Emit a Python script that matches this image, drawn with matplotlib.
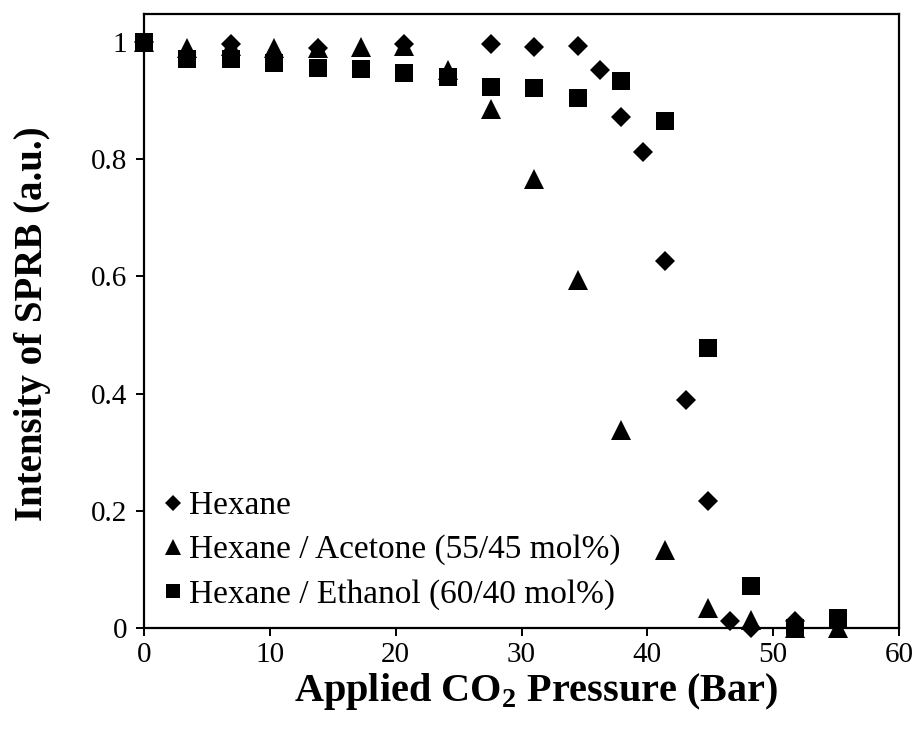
import matplotlib
matplotlib.use("Agg")
import matplotlib.pyplot as plt
from matplotlib.ticker import FuncFormatter

plt.rcParams["font.family"] = ["Liberation Serif", "DejaVu Serif"]
plt.rcParams["mathtext.fontset"] = "custom"
plt.rcParams["mathtext.rm"] = "Liberation Serif"
plt.rcParams["mathtext.bf"] = "Liberation Serif:bold"

# Applied CO2 pressure (bar) and normalised SPRB intensity
hexane_p = [0.0, 6.89, 13.79, 20.68, 27.58, 31.03, 34.47, 36.20, 37.92,
            39.64, 41.37, 43.09, 44.82, 46.54, 48.26, 51.71]
hexane_i = [1.000, 0.997, 0.990, 0.997, 0.997, 0.991, 0.993, 0.953, 0.873,
            0.812, 0.626, 0.389, 0.216, 0.012, 0.000, 0.012]

acetone_p = [0.0, 3.45, 6.89, 10.34, 13.79, 17.24, 20.68, 24.13, 27.58,
             31.03, 34.47, 37.92, 41.37, 44.82, 48.26, 51.71, 55.16]
acetone_i = [1.000, 0.990, 0.993, 0.990, 0.990, 0.992, 0.994, 0.953, 0.886,
             0.767, 0.594, 0.338, 0.133, 0.034, 0.014, 0.000, 0.000]

ethanol_p = [0.0, 3.45, 6.89, 10.34, 13.79, 17.24, 20.68, 24.13, 27.58,
             31.03, 34.47, 37.92, 41.37, 44.82, 48.26, 51.71, 55.16]
ethanol_i = [1.000, 0.971, 0.971, 0.964, 0.955, 0.954, 0.947, 0.941, 0.924,
             0.922, 0.905, 0.933, 0.865, 0.478, 0.072, 0.000, 0.017]

labels = ["Hexane",
          "Hexane / Acetone (55/45 mol%)",
          "Hexane / Ethanol (60/40 mol%)"]

x_ticks = [0, 10, 20, 30, 40, 50, 60]
y_ticks = [0, 0.2, 0.4, 0.6, 0.8, 1.0]

fig = plt.figure(figsize=(9.19, 7.38), dpi=100)
ax = fig.add_axes([144 / 919, 110 / 738, 755 / 919, 614 / 738])

ax.plot(hexane_p, hexane_i, linestyle="none", marker="D", ms=10.5,
        color="black", mew=0, label=labels[0], clip_on=False, zorder=3)
ax.plot(acetone_p, acetone_i, linestyle="none", marker="^", ms=15,
        color="black", mew=0, label=labels[1], clip_on=False, zorder=3)
ax.plot(ethanol_p, ethanol_i, linestyle="none", marker="s", ms=12.5,
        color="black", mew=0, label=labels[2], clip_on=False, zorder=3)

ax.set_xlim(0, 60)
ax.set_ylim(0, 1.048)
ax.set_xticks(x_ticks)
ax.set_yticks(y_ticks)
ax.yaxis.set_major_formatter(FuncFormatter(lambda v, _: f"{v:g}"))

for side in ["left", "bottom", "top", "right"]:
    ax.spines[side].set_linewidth(1.6)
ax.tick_params(direction="out", length=6, width=1.4, labelsize=21, pad=6)
ax.tick_params(axis="x", pad=4)

ax.set_xlabel(r"Applied CO$_\mathbf{2}$ Pressure (Bar)", fontsize=29,
              fontweight="bold")
ax.xaxis.set_label_coords(0.52, -0.07)
ax.set_ylabel("Intensity of SPRB (a.u.)", fontsize=28, fontweight="bold")
ax.yaxis.set_label_coords(-0.1235, 0.495)

leg = ax.legend(loc="lower left", bbox_to_anchor=(-0.004, -0.008),
                frameon=False, fontsize=24, handlelength=0.55,
                handletextpad=0.2, labelspacing=0.4, markerscale=0.8,
                borderaxespad=0.3)

fig.savefig("out.png", dpi=100)
